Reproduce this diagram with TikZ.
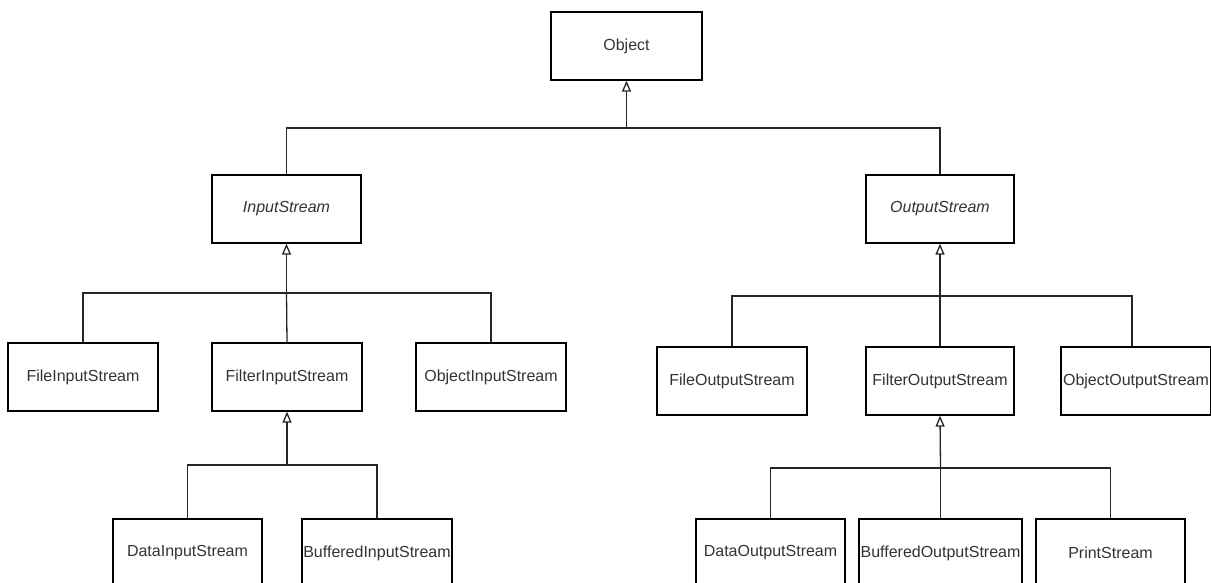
\documentclass[tikz,border=0pt]{standalone}
\usepackage{fontspec}
\setmainfont{Liberation Sans}
\usetikzlibrary{arrows.meta}
\definecolor{txt}{HTML}{333333}
\tikzset{
  cls/.style={draw=black, line width=1.3pt, fill=white, minimum height=68pt, inner sep=0pt,
    font=\fontsize{16pt}{19pt}\selectfont, text=txt},
  inh/.style={draw=black!85, line width=1.3pt, -{Triangle[open, width=9pt, length=11pt, line width=1.3pt]}},
  lnk/.style={draw=black!85, line width=1.3pt}
}
\begin{document}
\begin{tikzpicture}[x=1pt, y=-1pt]
\useasboundingbox (0,0) rectangle (1211,582);
\clip (0,0) rectangle (1211,582);
% nodes
\node[cls, minimum width=151pt] (obj) at (626.5,46) {Object};
\node[cls, minimum width=149pt] (is) at (286.5,209) {\itshape InputStream};
\node[cls, minimum width=148pt] (os) at (940,209) {\itshape OutputStream};
\node[cls, minimum width=150pt] (fis) at (83,377) {FileInputStream};
\node[cls, minimum width=150pt] (filis) at (287,377) {FilterInputStream};
\node[cls, minimum width=150pt] (ois) at (491,377) {ObjectInputStream};
\node[cls, minimum width=150pt] (fos) at (732,381) {FileOutputStream};
\node[cls, minimum width=148pt] (filos) at (940,381) {FilterOutputStream};
\node[cls, minimum width=150pt] (oos) at (1136,381) {ObjectOutputStream};
\node[cls, minimum width=149pt] (dis) at (187.5,553) {DataInputStream};
\node[cls, minimum width=150pt] (bis) at (377,553) {BufferedInputStream};
\node[cls, minimum width=149pt] (dos) at (770.5,553) {DataOutputStream};
\node[cls, minimum width=163pt] (bos) at (940.5,553) {BufferedOutputStream};
\node[cls, minimum width=149pt] (ps) at (1110.5,553) {PrintStream};
% junction coordinates
\coordinate (j0) at (626.5,128);
\coordinate (j1) at (286.5,293);
\coordinate (j2) at (940,296);
\coordinate (j3) at (287,465);
\coordinate (j4) at (940.5,468);
% Object level
\draw[lnk] (is.north) |- (j0) -| (os.north);
\draw[inh] (j0) -- (obj.south);
% InputStream level
\draw[lnk] (fis.north) |- (j1) -| (ois.north);
\draw[lnk] (filis.north) -- (j1);
\draw[inh] (j1) -- (is.south);
% OutputStream level
\draw[lnk] (fos.north) |- (j2) -| ([xshift=-4pt]oos.north);
\draw[lnk] (filos.north) -- (j2);
\draw[inh] (j2) -- (os.south);
% FilterInputStream level
\draw[lnk] (dis.north) |- (j3) -| (bis.north);
\draw[inh] (j3) -- (filis.south);
% FilterOutputStream level
\draw[lnk] (dos.north) |- (j4) -| (ps.north);
\draw[lnk] (bos.north) -- (j4);
\draw[inh] (j4) -- (filos.south);
\end{tikzpicture}
\end{document}
